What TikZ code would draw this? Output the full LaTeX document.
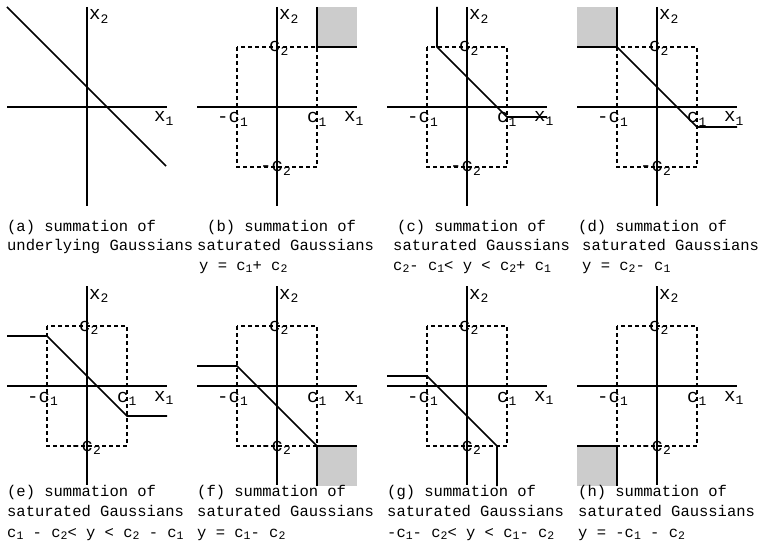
\documentclass[tikz,border=0pt]{standalone}
\usepackage{fontspec}
\newfontfamily\cour{Liberation Mono}
\newcommand\lblfont{\cour\fontsize{19}{19}\selectfont}
\newcommand\capfont{\cour\fontsize{15.5}{17}\selectfont}
\newcommand\sbl[1]{\raisebox{-3.5pt}{\fontsize{13}{13}\selectfont #1}}
\newcommand\sbc[1]{\raisebox{-2.5pt}{\fontsize{11.5}{11.5}\selectfont #1}}
\tikzset{
  axisline/.style={line width=1.6pt},
  curveline/.style={line width=1.6pt},
  boxline/.style={line width=1.1pt, dash pattern=on 4pt off 3pt},
  shadebox/.style={fill=black!20, draw=none},
  lbl/.style={font=\lblfont, inner sep=0pt, anchor=base west},
  capline/.style={font=\capfont, inner sep=0pt, anchor=base west},
}
\newcommand\axes[1]{%
  \draw[axisline] (-80,0) -- (80,0);
  \draw[axisline] (0,-100) -- (0,99);
  \node[lbl] (#1x2) at (2,-87) {x\sbl{2}};
  \node[lbl] (#1x1) at (67,15) {x\sbl{1}};
}
\newcommand\cbox[1]{%
  \draw[boxline] (-40,-60) rectangle (40,60);
  \node[lbl] (#1c2) at (-8,-55) {c\sbl{2}};
  \node[lbl] (#1mc2) at (-17,65) {-c\sbl{2}};
  \node[lbl] (#1c1) at (30,16) {c\sbl{1}};
  \node[lbl] (#1mc1) at (-60,16) {-c\sbl{1}};
}
\begin{document}
\begin{tikzpicture}[x=1pt,y=-1pt]
\useasboundingbox (0,0) rectangle (768,548);
% ---------- (a)
\begin{scope}[shift={(87,107)}]
  \axes{a}
  \draw[curveline] (-80,-100) -- (79,59);
\end{scope}
% ---------- (b)
\begin{scope}[shift={(277,107)}]
  \fill[shadebox] (40,-60) rectangle (80,-100);
  \cbox{b}
  \axes{b}
  \draw[curveline] (40,-100) -- (40,-60) -- (80,-60);
\end{scope}
% ---------- (c)
\begin{scope}[shift={(467,107)}]
  \cbox{c}
  \axes{c}
  \draw[curveline] (-30,-100) -- (-30,-60) -- (40,10) -- (80,10);
\end{scope}
% ---------- (d)
\begin{scope}[shift={(657,107)}]
  \fill[shadebox] (-80,-100) rectangle (-40,-60);
  \cbox{d}
  \axes{d}
  \draw[curveline] (-80,-60) -- (-40,-60) -- (-40,-100);
  \draw[curveline] (-40,-60) -- (40,20) -- (80,20);
\end{scope}
% ---------- (e)
\begin{scope}[shift={(87,386)}]
  \cbox{e}
  \axes{e}
  \draw[curveline] (-80,-50) -- (-40,-50) -- (40,30) -- (80,30);
\end{scope}
% ---------- (f)
\begin{scope}[shift={(277,386)}]
  \fill[shadebox] (40,60) rectangle (80,100);
  \cbox{f}
  \axes{f}
  \draw[curveline] (-80,-20) -- (-40,-20) -- (40,60);
  \draw[curveline] (40,100) -- (40,60) -- (80,60);
\end{scope}
% ---------- (g)
\begin{scope}[shift={(467,386)}]
  \cbox{g}
  \axes{g}
  \draw[curveline] (-80,-10) -- (-40,-10) -- (30,60) -- (30,100);
\end{scope}
% ---------- (h)
\begin{scope}[shift={(657,386)}]
  \fill[shadebox] (-80,60) rectangle (-40,100);
  \cbox{h}
  \axes{h}
  \draw[curveline] (-80,60) -- (-40,60) -- (-40,100);
\end{scope}
% ---------- captions, top row
\node[capline] (capa1) at (7,231) {(a) summation of};
\node[capline] (capa2) at (7,250.5) {underlying Gaussians};
\node[capline] (capb1) at (207,231) {(b) summation of};
\node[capline] (capb2) at (197,250.5) {saturated Gaussians};
\node[capline] (capb3) at (199,270) {y = c\sbc{1}+ c\sbc{2}};
\node[capline] (capc1) at (397,231) {(c) summation of};
\node[capline] (capc2) at (393,250.5) {saturated Gaussians};
\node[capline] (capc3) at (393,270) {c\sbc{2}- c\sbc{1}< y < c\sbc{2}+ c\sbc{1}};
\node[capline] (capd1) at (578,231) {(d) summation of};
\node[capline] (capd2) at (582,250.5) {saturated Gaussians};
\node[capline] (capd3) at (582,270) {y = c\sbc{2}- c\sbc{1}};
% ---------- captions, bottom row
\node[capline] (cape1) at (7,496) {(e) summation of};
\node[capline] (cape2) at (7,516.5) {saturated Gaussians};
\node[capline] (cape3) at (7,537) {c\sbc{1} - c\sbc{2}< y < c\sbc{2} - c\sbc{1}};
\node[capline] (capf1) at (197,496) {(f) summation of};
\node[capline] (capf2) at (197,516.5) {saturated Gaussians};
\node[capline] (capf3) at (197,537) {y = c\sbc{1}- c\sbc{2}};
\node[capline] (capg1) at (387,496) {(g) summation of};
\node[capline] (capg2) at (387,516.5) {saturated Gaussians};
\node[capline] (capg3) at (387,537) {-c\sbc{1}- c\sbc{2}< y < c\sbc{1}- c\sbc{2}};
\node[capline] (caph1) at (578,496) {(h) summation of};
\node[capline] (caph2) at (578,516.5) {saturated Gaussians};
\node[capline] (caph3) at (578,537) {y = -c\sbc{1} - c\sbc{2}};
\end{tikzpicture}
\end{document}
